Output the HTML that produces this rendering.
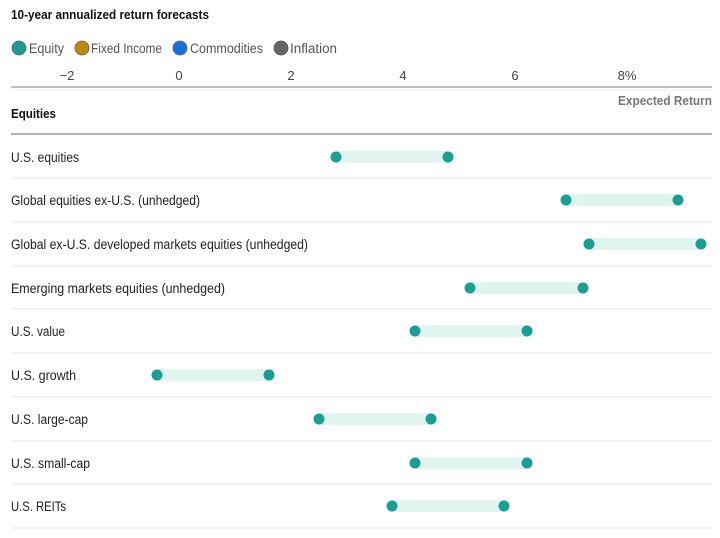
<!DOCTYPE html>
<html><head><meta charset="utf-8"><style>
html,body{margin:0;padding:0;background:#fff;}
svg{display:block;font-family:"Liberation Sans",sans-serif;}
</style></head><body>
<svg width="720" height="538" viewBox="0 0 720 538" xmlns="http://www.w3.org/2000/svg">
<text x="11" y="19" font-size="13" font-weight="bold" fill="#111" textLength="198" lengthAdjust="spacingAndGlyphs">10-year annualized return forecasts</text>
<g font-size="13.5" fill="#555">
<circle cx="19" cy="48" r="7" fill="#1a9e94" stroke="#666" stroke-width="0.8"/><text x="29" y="53" textLength="35" lengthAdjust="spacingAndGlyphs">Equity</text>
<circle cx="82" cy="48" r="7" fill="#bf8a0c" stroke="#666" stroke-width="0.8"/><text x="91" y="53" textLength="71" lengthAdjust="spacingAndGlyphs">Fixed Income</text>
<circle cx="180" cy="48" r="7" fill="#1472d8" stroke="#666" stroke-width="0.8"/><text x="190" y="53" textLength="73" lengthAdjust="spacingAndGlyphs">Commodities</text>
<circle cx="281" cy="48" r="7" fill="#666" stroke="#555" stroke-width="0.8"/><text x="290" y="53" textLength="47" lengthAdjust="spacingAndGlyphs">Inflation</text>
</g>
<g font-size="13" fill="#444" text-anchor="middle">
<text x="67" y="80">−2</text><text x="179" y="80">0</text><text x="291" y="80">2</text>
<text x="403" y="80">4</text><text x="515" y="80">6</text><text x="627" y="80">8%</text>
</g>
<line x1="11" y1="87" x2="712" y2="87" stroke="#999" stroke-width="1.2"/>
<line x1="11" y1="90" x2="712" y2="90" stroke="#eee" stroke-width="1"/>
<text x="712" y="105" font-size="12.5" font-weight="bold" fill="#777" text-anchor="end" textLength="94" lengthAdjust="spacingAndGlyphs">Expected Return</text>
<text x="11" y="118" font-size="13" font-weight="bold" fill="#111" textLength="45" lengthAdjust="spacingAndGlyphs">Equities</text>
<line x1="11" y1="134" x2="712" y2="134" stroke="#888" stroke-width="1.2"/>
<g font-size="13.5" fill="#222" lengthAdjust="spacingAndGlyphs">
<text x="11" y="162" textLength="68" lengthAdjust="spacingAndGlyphs">U.S. equities</text>
<text x="11" y="205" textLength="189" lengthAdjust="spacingAndGlyphs">Global equities ex-U.S. (unhedged)</text>
<text x="11" y="249" textLength="297" lengthAdjust="spacingAndGlyphs">Global ex-U.S. developed markets equities (unhedged)</text>
<text x="11" y="293" textLength="214" lengthAdjust="spacingAndGlyphs">Emerging markets equities (unhedged)</text>
<text x="11" y="336" textLength="54" lengthAdjust="spacingAndGlyphs">U.S. value</text>
<text x="11" y="380" textLength="65" lengthAdjust="spacingAndGlyphs">U.S. growth</text>
<text x="11" y="424" textLength="77" lengthAdjust="spacingAndGlyphs">U.S. large-cap</text>
<text x="11" y="468" textLength="79" lengthAdjust="spacingAndGlyphs">U.S. small-cap</text>
<text x="11" y="511" textLength="55" lengthAdjust="spacingAndGlyphs">U.S. REITs</text>
</g>
<g stroke="#eee" stroke-width="1.5">
<line x1="11" y1="178" x2="712" y2="178"/><line x1="11" y1="222" x2="712" y2="222"/>
<line x1="11" y1="266" x2="712" y2="266"/><line x1="11" y1="309" x2="712" y2="309"/>
<line x1="11" y1="353" x2="712" y2="353"/><line x1="11" y1="397" x2="712" y2="397"/>
<line x1="11" y1="441" x2="712" y2="441"/><line x1="11" y1="484" x2="712" y2="484"/>
<line x1="11" y1="528" x2="712" y2="528"/>
</g>
<g fill="#e0f5f0">
<rect x="336" y="151" width="112" height="12"/>
<rect x="566" y="194" width="112" height="12"/>
<rect x="589" y="238" width="112" height="12"/>
<rect x="470" y="282" width="113" height="12"/>
<rect x="415" y="325" width="112" height="12"/>
<rect x="157" y="369" width="112" height="12"/>
<rect x="319" y="413" width="112" height="12"/>
<rect x="415" y="457" width="112" height="12"/>
<rect x="392" y="500" width="112" height="12"/>
</g>
<g fill="#1a9e94">
<circle cx="336" cy="157" r="5.5"/><circle cx="448" cy="157" r="5.5"/>
<circle cx="566" cy="200" r="5.5"/><circle cx="678" cy="200" r="5.5"/>
<circle cx="589" cy="244" r="5.5"/><circle cx="701" cy="244" r="5.5"/>
<circle cx="470" cy="288" r="5.5"/><circle cx="583" cy="288" r="5.5"/>
<circle cx="415" cy="331" r="5.5"/><circle cx="527" cy="331" r="5.5"/>
<circle cx="157" cy="375" r="5.5"/><circle cx="269" cy="375" r="5.5"/>
<circle cx="319" cy="419" r="5.5"/><circle cx="431" cy="419" r="5.5"/>
<circle cx="415" cy="463" r="5.5"/><circle cx="527" cy="463" r="5.5"/>
<circle cx="392" cy="506" r="5.5"/><circle cx="504" cy="506" r="5.5"/>
</g>
</svg>
</body></html>
